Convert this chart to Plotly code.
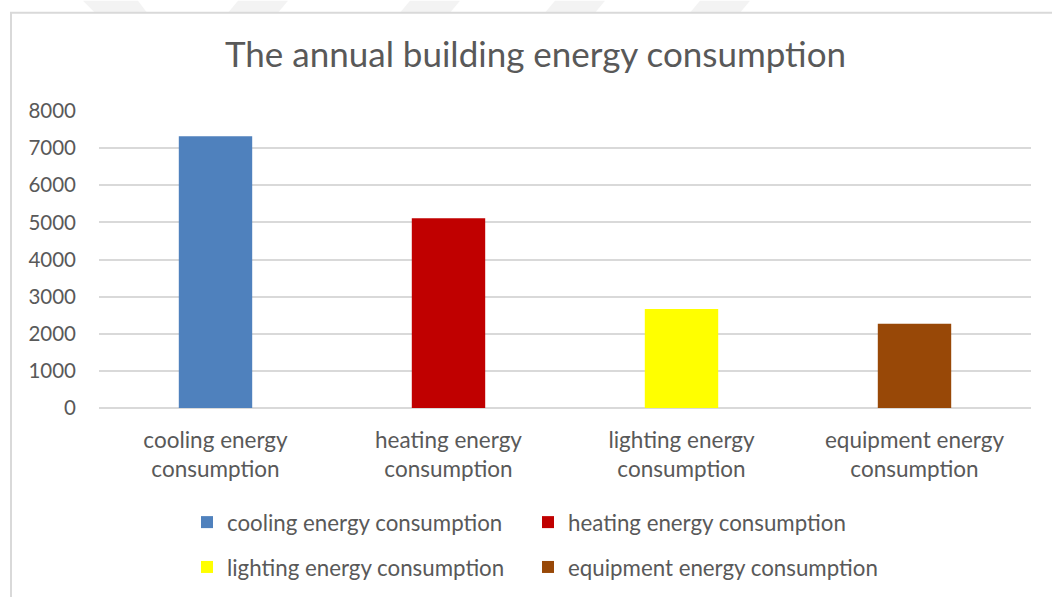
import plotly.graph_objects as go

# Annual building energy consumption by end use
categories = [
    "cooling energy consumption",
    "heating energy consumption",
    "lighting energy consumption",
    "equipment energy consumption",
]
tick_labels = [
    "cooling energy<br>consumption",
    "heating energy<br>consumption",
    "lighting energy<br>consumption",
    "equipment energy<br>consumption",
]
values = [7320, 5110, 2670, 2270]
colors = ["#4f81bd", "#c00000", "#ffff00", "#984807"]

FONT = "Lato"
TEXT = "#595959"
GRID = "#d9d9d9"

W, H = 1052, 597
L, R, T, B = 99, 21, 110.5, 188.5
pw, ph = W - L - R, H - T - B


def px_x(x):
    return (x - L) / pw


def px_y(y):
    return (H - B - y) / ph


# one legend box per entry, laid out as a 2 x 2 grid below the axis
legend_ids = ["legend", "legend2", "legend3", "legend4"]
legend_pos = [(187, 523), (528, 523), (187, 568), (528, 568)]

fig = go.Figure()
for name, lab, v, c, lg in zip(categories, tick_labels, values, colors, legend_ids):
    fig.add_trace(go.Bar(
        x=[lab], y=[v], name=name, marker=dict(color=c, line=dict(width=0)),
        width=0.315, legend=lg, hoverinfo="y",
    ))

shapes = []
# faint diagonal bands along the top edge
for x0, d in [(83, 1), (228, -1), (400, -1), (545, -1), (690, -1)]:
    if d > 0:
        path = f"M{x0},0 L{x0+55},0 L{x0+64},12 L{x0+12},12 Z"
    else:
        path = f"M{x0+10},0 L{x0+60},0 L{x0+50},12 L{x0},12 Z"
    shapes.append(dict(type="path", xref="paper", yref="paper", layer="below",
                       path=" ".join(
                           (f"{tok[0]}{px_x(float(tok[1:].split(',')[0])):.5f},"
                            f"{px_y(float(tok.split(',')[1])):.5f}") if tok[0] in "ML" else tok
                           for tok in path.split()),
                       fillcolor="#f3f3f3", line=dict(width=0)))
# chart frame
shapes.append(dict(type="rect", xref="paper", yref="paper",
                   x0=px_x(11), x1=px_x(W + 20), y0=px_y(H + 20), y1=px_y(12),
                   line=dict(color=GRID, width=2), fillcolor="rgba(0,0,0,0)", layer="below"))

legends = {}
for lg, (lx, ly) in zip(legend_ids, legend_pos):
    legends[lg] = dict(orientation="h", x=px_x(lx), xanchor="left", y=px_y(ly), yanchor="middle",
                       font=dict(size=22.3, color=TEXT), bgcolor="rgba(0,0,0,0)")

fig.update_layout(
    width=W, height=H,
    margin=dict(l=L, r=R, t=T, b=B, autoexpand=False),
    paper_bgcolor="white", plot_bgcolor="white",
    barmode="overlay",
    font=dict(family=FONT, color=TEXT, size=22),
    title=dict(text="The annual building energy consumption", x=535.5 / W, xref="container",
               xanchor="center", y=1 - 55 / H, yref="container", yanchor="middle",
               font=dict(family=FONT, size=35, color=TEXT)),
    xaxis=dict(showgrid=False, showline=False, zeroline=False, ticks="",
               tickfont=dict(size=22.5, color=TEXT), ticklabelstandoff=16,
               categoryorder="array", categoryarray=tick_labels),
    yaxis=dict(range=[0, 8000], dtick=1000, showgrid=True, gridcolor=GRID, gridwidth=1.5,
               zeroline=True, zerolinecolor=GRID, zerolinewidth=1.5, showline=False,
               ticks="", ticklabelstandoff=22, tickfont=dict(size=20.5, color=TEXT)),
    shapes=shapes,
    showlegend=True,
    **legends,
)

fig.write_html("out.html")
